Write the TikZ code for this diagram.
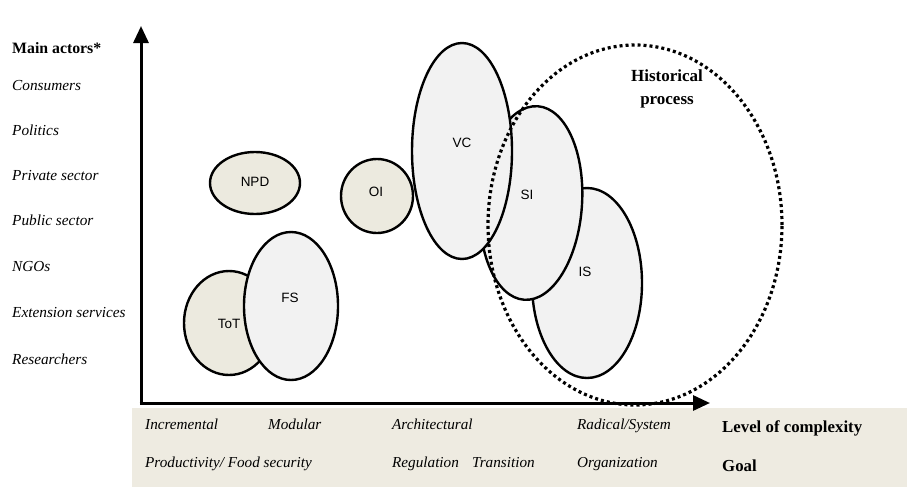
\documentclass[tikz,border=0pt]{standalone}
\usepackage{fontspec}
\setmainfont{Liberation Serif}
\newfontfamily\arialf{Liberation Sans}
\usetikzlibrary{shapes.geometric,arrows.meta}
\definecolor{beige}{HTML}{ECEADF}
\definecolor{lgrey}{HTML}{F2F2F2}
\definecolor{boxbg}{HTML}{EEEBE1}
\begin{document}
\begin{tikzpicture}[x=1pt,y=-1pt,
  oval/.style={ellipse,draw=black,line width=2.4pt,inner sep=0pt},
  tan/.style={oval,fill=beige},
  grey/.style={oval,fill=lgrey},
  lab/.style={font=\arialf\fontsize{13.5}{15}\selectfont,inner sep=0pt},
  actor/.style={anchor=base west,font=\fontsize{15.3}{17}\selectfont\itshape,inner sep=0pt},
  axtext/.style={anchor=base west,font=\fontsize{15.2}{17}\selectfont\itshape,inner sep=0pt},
  boldtext/.style={anchor=base west,font=\fontsize{16.8}{19}\selectfont\bfseries,inner sep=0pt},
  axis/.style={line width=3pt,-{Triangle[length=17pt,width=15pt]}}]
\useasboundingbox (0,0) rectangle (907,488);
% bottom box
\fill[boxbg] (132,408) rectangle (907,487);
% left labels
\node[anchor=base west,font=\fontsize{15.8}{18}\selectfont\bfseries,inner sep=0pt] (ma) at (12,53) {Main actors*};
\node[actor] (cons) at (12,90) {Consumers};
\node[actor] (pol) at (12,135) {Politics};
\node[actor] (priv) at (12,180) {Private sector};
\node[actor] (pub) at (12,225) {Public sector};
\node[actor] (ngo) at (12,271) {NGOs};
\node[actor] (ext) at (12,317) {Extension services};
\node[actor] (res) at (12,364) {Researchers};
% axes
\coordinate (o) at (141,403);
\coordinate (ytip) at (141,26);
\coordinate (xtip) at (710,403);
\draw[axis] ([yshift=1.5pt]o) -- (ytip);
\draw[axis] ([xshift=-1.5pt]o) -- (xtip);
% ellipses
\node[tan,minimum width=90pt,minimum height=62pt] (npd) at (255,183) {};
\node[tan,minimum width=90pt,minimum height=104pt] (tot) at (229,323) {};
\node[grey,minimum width=94pt,minimum height=148pt] (fs) at (291,306) {};
\node[tan,minimum width=72pt,minimum height=74pt] (oi) at (377,196) {};
\node[grey,minimum width=110pt,minimum height=190pt] (is) at (587,283) {};
\node[grey,minimum width=102pt,minimum height=194pt,rotate=-4] (si) at (531,203) {};
\node[grey,minimum width=100pt,minimum height=216pt] (vc) at (462,151) {};
\node[ellipse,draw=black,line width=3.2pt,dash pattern=on 3pt off 3pt,minimum width=294pt,minimum height=360pt,inner sep=0pt] (hp) at (635,225) {};
% labels
\node[lab] at (255,182) {NPD};
\node[lab] at (229,324) {ToT};
\node[lab] at (290,298) {FS};
\node[lab] at (376,192) {OI};
\node[lab] at (462,143) {VC};
\node[lab] at (527,195) {SI};
\node[lab] at (585,272) {IS};
\node[font=\fontsize{17}{23}\selectfont\bfseries,align=center,inner sep=0pt] (hpl) at (667,89) {Historical\\process};
% bottom texts
\node[axtext] (inc) at (145,429) {Incremental};
\node[axtext] (mod) at (268,429) {Modular};
\node[axtext] (arc) at (392,429) {Architectural};
\node[axtext] (rad) at (577,429) {Radical/System};
\node[boldtext] (loc) at (722,432) {Level of complexity};
\node[axtext] (prod) at (145,467) {Productivity/ Food security};
\node[axtext] (reg) at (392,467) {Regulation};
\node[axtext] (tra) at (472,467) {Transition};
\node[axtext] (org) at (577,467) {Organization};
\node[boldtext] (goal) at (722,471) {Goal};
\end{tikzpicture}
\end{document}
